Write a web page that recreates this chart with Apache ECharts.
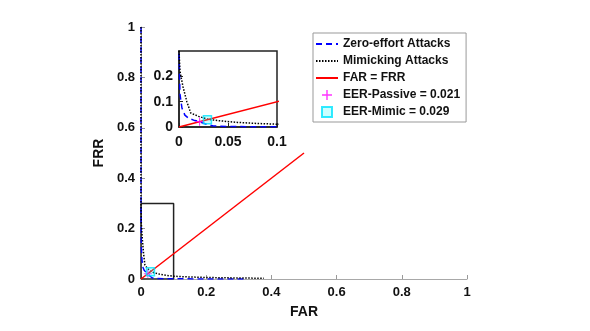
<!DOCTYPE html>
<html>
<head>
<meta charset="utf-8">
<script src="https://cdn.jsdelivr.net/npm/echarts@6/dist/echarts.min.js"></script>
<style>html,body{margin:0;padding:0;background:#fff;}#c{width:590px;height:331px;}</style>
</head>
<body>
<div id="c"></div>
<script>
// ---- data ----
var zeroFAR = [0, 0, 0, 0.001, 0.003, 0.006, 0.010, 0.015, 0.021, 0.028, 0.035, 0.05, 0.08, 0.12, 0.2, 0.27, 0.325];
var zeroFRR = [1, 0.6, 0.3, 0.13, 0.075, 0.047, 0.034, 0.027, 0.021, 0.011, 0.004, 0.002, 0.001, 0.001, 0, 0, 0];
var mimicFAR = [0, 0, 0, 0.001, 0.004, 0.008, 0.012, 0.02, 0.029, 0.04, 0.06, 0.08, 0.1, 0.15, 0.2, 0.3, 0.377];
var mimicFRR = [1, 0.6, 0.3, 0.22, 0.16, 0.1, 0.055, 0.042, 0.031, 0.025, 0.018, 0.014, 0.011, 0.008, 0.006, 0.004, 0.003];
var eqFAR = [0, 0.5];
var eqFRR = [0, 0.5];
var zoomBoxX = [0, 0, 0.1, 0.1, 0];
var zoomBoxY = [0, 0.3, 0.3, 0, 0];
var eerPassive = [0.021, 0.021];
var eerMimic = [0.029, 0.029];
var mainTicks = [0, 0.2, 0.4, 0.6, 0.8, 1];
var insetXTicks = [0, 0.05, 0.1];
var insetYTicks = [0, 0.1, 0.2, 0.3];
var names = ['Zero-effort Attacks', 'Mimicking Attacks', 'FAR = FRR', 'EER-Passive = 0.021', 'EER-Mimic = 0.029'];

function pairs(xs, ys) { return xs.map(function (x, i) { return [x, ys[i]]; }); }

var FONT = 'Liberation Sans, Arial, Helvetica, sans-serif';
var plusPath = 'path://M4.3,0h1.4v4.3h4.3v1.4h-4.3v4.3h-1.4v-4.3h-4.3v-1.4h4.3z';
var squarePath = 'path://M0,0h10v10h-10z';

function axisBase(ticks, inset) {
  return {
    type: 'value',
    min: ticks[0],
    max: ticks[ticks.length - 1],
    interval: ticks[1] - ticks[0],
    splitLine: { show: false },
    axisLine: { show: true, onZero: false, lineStyle: { color: inset ? '#222' : '#a8a8a8', width: inset ? 1.5 : 1 } },
    axisTick: { show: true, inside: true, length: 4, lineStyle: { color: inset ? '#222' : '#999' } },
    axisLabel: { color: '#111', fontFamily: FONT, fontWeight: 'bold', fontSize: inset ? 14 : 13, margin: inset ? 8 : 7 }
  };
}

var xMain = axisBase(mainTicks, false);
xMain.gridIndex = 0;
xMain.name = 'FAR';
xMain.nameLocation = 'middle';
xMain.nameGap = 26;
xMain.nameTextStyle = { color: '#111', fontFamily: FONT, fontWeight: 'bold', fontSize: 14 };

var yMain = axisBase(mainTicks, false);
yMain.gridIndex = 0;
yMain.name = 'FRR';
yMain.nameLocation = 'middle';
yMain.nameGap = 28;
yMain.nameTextStyle = { color: '#111', fontFamily: FONT, fontWeight: 'bold', fontSize: 14 };
yMain.axisLabel.margin = 6;

var xIn = axisBase(insetXTicks, true);
xIn.gridIndex = 1;
var yIn = axisBase(insetYTicks, true);
yIn.gridIndex = 1;
yIn.axisLabel.showMaxLabel = false;
yIn.axisLabel.margin = 6;

function curveSeries(idx) {
  return [
    { name: names[0], type: 'line', xAxisIndex: idx, yAxisIndex: idx, symbol: 'none', clip: true,
      data: pairs(zeroFAR, zeroFRR), lineStyle: { color: '#0000ff', width: 1.5, type: [6, 4] }, itemStyle: { color: '#0000ff' }, z: 13 },
    { name: names[1], type: 'line', xAxisIndex: idx, yAxisIndex: idx, symbol: 'none', clip: true,
      data: pairs(mimicFAR, mimicFRR), lineStyle: { color: '#000', width: 1.5, type: [1.5, 1.5] }, itemStyle: { color: '#000' }, z: 14 },
    { name: names[2], type: 'line', xAxisIndex: idx, yAxisIndex: idx, symbol: 'none', clip: true,
      data: pairs(eqFAR, eqFRR), lineStyle: { color: '#ff0000', width: 1.5 }, itemStyle: { color: '#ff0000' }, z: 15 },
    { name: names[3], type: 'scatter', xAxisIndex: idx, yAxisIndex: idx, symbol: plusPath, symbolSize: 8,
      data: [eerPassive], itemStyle: { color: '#ff00ff' }, z: 16 },
    { name: names[4], type: 'scatter', xAxisIndex: idx, yAxisIndex: idx, symbol: squarePath, symbolSize: 8,
      data: [eerMimic], itemStyle: { color: 'rgba(0,255,255,0.25)', borderColor: '#00e5ff', borderWidth: 1.5 }, z: 16 }
  ];
}

var series = curveSeries(0).concat([
  { name: 'zoomBox', type: 'line', xAxisIndex: 0, yAxisIndex: 0, symbol: 'none',
    data: pairs(zoomBoxX, zoomBoxY), lineStyle: { color: '#222', width: 1.5 }, z: 12 }
]).concat(curveSeries(1));

var hide = { opacity: 0 };
var chart = echarts.init(document.getElementById('c'), null, { renderer: 'canvas' });
chart.setOption({
  backgroundColor: '#fff',
  animation: false,
  grid: [
    { left: 141, top: 27, width: 326, height: 252 },
    { left: 179, top: 51, width: 98, height: 76, show: true, backgroundColor: 'transparent', borderColor: '#222', borderWidth: 1.5 }
  ],
  xAxis: [xMain, xIn],
  yAxis: [yMain, yIn],
  legend: {
    data: [
      { name: names[0], itemStyle: hide },
      { name: names[1], itemStyle: hide },
      { name: names[2], itemStyle: hide },
      { name: names[3] },
      { name: names[4] }
    ],
    orient: 'vertical',
    left: 313,
    top: 33,
    padding: [5, 6, 4, 2],
    itemGap: 5,
    itemWidth: 22,
    itemHeight: 10,
    backgroundColor: '#fff',
    borderColor: '#999',
    borderWidth: 1,
    z: 20,
    textStyle: { color: '#111', fontFamily: FONT, fontWeight: 'bold', fontSize: 12 }
  },
  series: series
});
</script>
</body>
</html>
